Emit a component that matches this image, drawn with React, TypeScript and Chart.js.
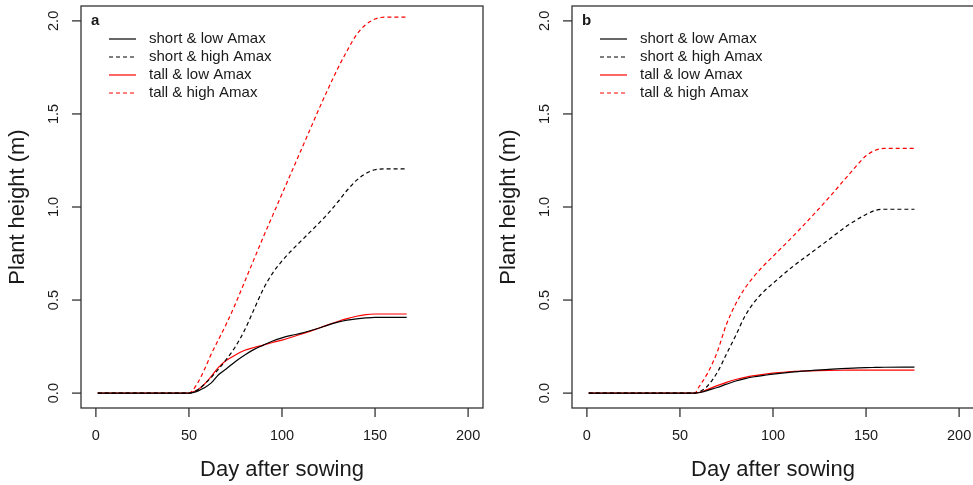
import React, { useEffect, useRef } from "react";
import { Chart, registerables } from "chart.js";

Chart.register(...registerables);

// ---------- data ----------
const seriesNames = ["short & low Amax", "short & high Amax", "tall & low Amax", "tall & high Amax"];
const xTickValues = [0, 50, 100, 150, 200];
const yTickValues = [0, 0.5, 1.0, 1.5, 2.0];
const yTickLabels = ["0.0", "0.5", "1.0", "1.5", "2.0"];
const xTitle = "Day after sowing";
const yTitle = "Plant height (m)";

// panel a
const daysA = [1, 48, 50, 52, 55, 58, 62, 66, 70, 75, 80, 85, 90, 95, 100, 105, 110, 115, 120, 125, 130, 135, 140, 145, 150, 155, 167];
const shortLowA = [0, 0, 0, 0.003, 0.012, 0.027, 0.055, 0.1, 0.13, 0.17, 0.205, 0.235, 0.258, 0.28, 0.297, 0.31, 0.321, 0.335, 0.35, 0.367, 0.381, 0.392, 0.399, 0.404, 0.407, 0.407, 0.407];
const shortHighA = [0, 0, 0, 0.005, 0.02, 0.045, 0.085, 0.13, 0.18, 0.25, 0.34, 0.45, 0.56, 0.645, 0.71, 0.765, 0.815, 0.865, 0.915, 0.968, 1.027, 1.09, 1.143, 1.18, 1.2, 1.205, 1.205];
const tallLowA = [0, 0, 0, 0.005, 0.02, 0.045, 0.09, 0.14, 0.175, 0.205, 0.23, 0.245, 0.258, 0.272, 0.285, 0.3, 0.316, 0.332, 0.35, 0.368, 0.385, 0.4, 0.413, 0.422, 0.425, 0.425, 0.425];
const tallHighA = [0, 0, 0, 0.015, 0.06, 0.12, 0.21, 0.29, 0.37, 0.48, 0.6, 0.72, 0.84, 0.955, 1.07, 1.185, 1.3, 1.415, 1.53, 1.64, 1.745, 1.84, 1.925, 1.98, 2.01, 2.02, 2.02];

// panel b
const daysB = [1, 55, 58, 60, 62, 65, 70, 75, 80, 85, 90, 95, 100, 110, 120, 130, 140, 150, 155, 160, 176];
const shortLowB = [0, 0, 0, 0.002, 0.006, 0.015, 0.03, 0.048, 0.065, 0.078, 0.088, 0.095, 0.102, 0.113, 0.121, 0.128, 0.133, 0.137, 0.138, 0.139, 0.14];
const shortHighB = [0, 0, 0, 0.005, 0.015, 0.04, 0.11, 0.21, 0.31, 0.415, 0.49, 0.545, 0.59, 0.675, 0.75, 0.825, 0.9, 0.96, 0.982, 0.988, 0.988];
const tallLowB = [0, 0, 0, 0.003, 0.008, 0.02, 0.04, 0.058, 0.073, 0.085, 0.094, 0.101, 0.107, 0.116, 0.12, 0.122, 0.123, 0.124, 0.124, 0.124, 0.124];
const tallHighB = [0, 0, 0, 0.03, 0.06, 0.11, 0.22, 0.37, 0.48, 0.565, 0.63, 0.685, 0.735, 0.835, 0.94, 1.05, 1.165, 1.275, 1.305, 1.315, 1.315];

// ---------- styles ----------
const seriesColors = ["#000000", "#000000", "#ff0000", "#ff0000"];
const seriesDashes: number[][] = [[], [4, 3], [], [4, 3]];
const FONT = "'Liberation Sans', Arial, sans-serif";

const rFramePlugin = {
  id: "rframe",
  afterDraw(chart: any, _args: any, opts: any) {
    const { ctx, chartArea: ca, scales } = chart;
    const xs = scales.x;
    const ys = scales.y;
    ctx.save();
    ctx.strokeStyle = "#333";
    ctx.lineWidth = 1.3;
    ctx.setLineDash([]);
    ctx.strokeRect(ca.left, ca.top, ca.right - ca.left, ca.bottom - ca.top);

    ctx.fillStyle = "#1a1a1a";
    ctx.font = `14.5px ${FONT}`;
    ctx.textAlign = "center";
    ctx.textBaseline = "middle";
    // x ticks
    xTickValues.forEach((v) => {
      const px = xs.getPixelForValue(v);
      ctx.beginPath();
      ctx.moveTo(px, ca.bottom);
      ctx.lineTo(px, ca.bottom + 9);
      ctx.stroke();
      ctx.fillText(String(v), px, ca.bottom + 28);
    });
    // y ticks
    yTickValues.forEach((v, i) => {
      const py = ys.getPixelForValue(v);
      ctx.beginPath();
      ctx.moveTo(ca.left - 9, py);
      ctx.lineTo(ca.left, py);
      ctx.stroke();
      ctx.save();
      ctx.translate(ca.left - 27, py);
      ctx.rotate(-Math.PI / 2);
      ctx.fillText(yTickLabels[i], 0, 0);
      ctx.restore();
    });
    // titles
    ctx.font = `22px ${FONT}`;
    ctx.fillText(xTitle, (ca.left + ca.right) / 2, ca.bottom + 62);
    ctx.save();
    ctx.translate(18, (ca.top + ca.bottom) / 2);
    ctx.rotate(-Math.PI / 2);
    ctx.fillText(yTitle, 0, 0);
    ctx.restore();

    // panel letter
    ctx.textAlign = "left";
    ctx.font = `bold 15px ${FONT}`;
    ctx.fillText(opts.letter, ca.left + 10, ca.top + 15);

    // legend
    ctx.font = `15px ${FONT}`;
    seriesNames.forEach((name, i) => {
      const y = ca.top + 33 + i * 18;
      ctx.strokeStyle = seriesColors[i];
      ctx.lineWidth = 1.2;
      ctx.setLineDash(seriesDashes[i]);
      ctx.beginPath();
      ctx.moveTo(ca.left + 28, y);
      ctx.lineTo(ca.left + 55, y);
      ctx.stroke();
      ctx.fillText(name, ca.left + 68, y);
    });
    ctx.restore();
  },
};

function Panel({ letter, days, series, left }: { letter: string; days: number[]; series: number[][]; left: number }) {
  const ref = useRef<HTMLCanvasElement>(null);
  useEffect(() => {
    if (!ref.current) return;
    const chart = new Chart(ref.current, {
      type: "line",
      data: {
        datasets: series.map((vals, i) => ({
          label: seriesNames[i],
          data: days.map((d, j) => ({ x: d, y: vals[j] })),
          borderColor: seriesColors[i],
          borderDash: seriesDashes[i],
          borderWidth: 1.2,
          pointRadius: 0,
          fill: false,
          cubicInterpolationMode: "monotone" as const,
        })),
      },
      options: {
        responsive: false,
        animation: false,
        devicePixelRatio: 1,
        layout: { padding: { left: 81, right: 8, top: 6, bottom: 77 } },
        scales: {
          x: { type: "linear", min: -8, max: 208, display: false },
          y: { type: "linear", min: -0.08, max: 2.08, display: false },
        },
        plugins: {
          legend: { display: false },
          tooltip: { enabled: false },
          rframe: { letter },
        } as any,
      },
      plugins: [rFramePlugin],
    });
    return () => chart.destroy();
  }, []);
  return (
    <canvas
      ref={ref}
      width={491}
      height={485}
      style={{ position: "absolute", left, top: 0, width: 491, height: 485 }}
    />
  );
}

export default function App() {
  return (
    <div
      style={{
        position: "fixed",
        left: 0,
        top: 0,
        width: 973,
        height: 485,
        overflow: "hidden",
        background: "#fff",
      }}
    >
      <Panel letter="a" days={daysA} series={[shortLowA, shortHighA, tallLowA, tallHighA]} left={0} />
      <Panel letter="b" days={daysB} series={[shortLowB, shortHighB, tallLowB, tallHighB]} left={491} />
    </div>
  );
}
